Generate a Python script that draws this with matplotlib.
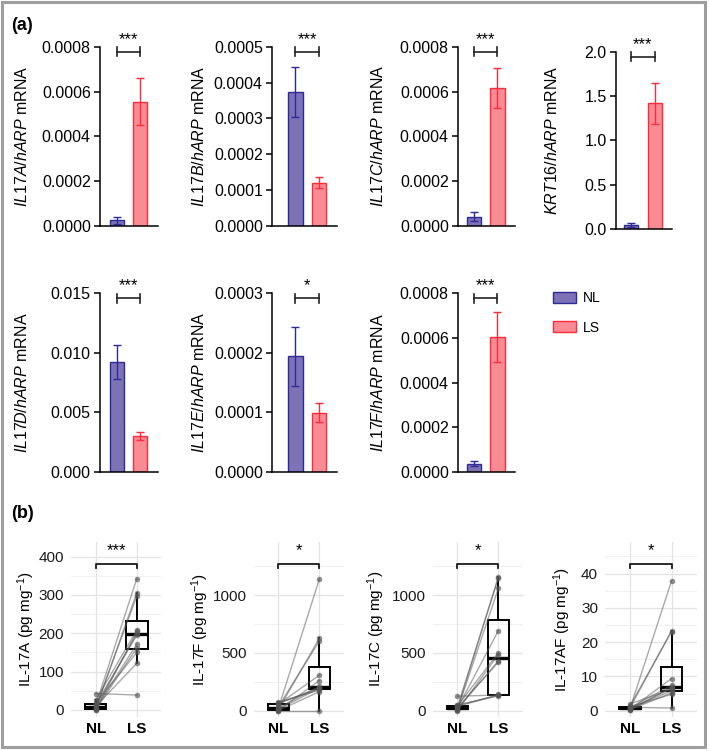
import matplotlib
matplotlib.use("Agg")
import matplotlib.pyplot as plt
import matplotlib.transforms as mtransforms
from matplotlib.patches import Patch, Rectangle
from matplotlib.ticker import MultipleLocator, FormatStrFormatter

plt.rcParams["font.family"] = ["Liberation Sans", "DejaVu Sans"]
plt.rcParams["mathtext.fontset"] = "custom"
plt.rcParams["mathtext.rm"] = "Liberation Sans"
plt.rcParams["mathtext.it"] = "Liberation Sans:italic"
plt.rcParams["mathtext.bf"] = "Liberation Sans:bold"

# ---- panel (a): qPCR, mean +/- SEM ----
genes = ["IL17A", "IL17B", "IL17C", "KRT16", "IL17D", "IL17E", "IL17F"]
nl_mean = [0.0000225, 0.000375, 0.000040, 0.049, 0.00924, 0.000194, 0.000037]
nl_sem = [0.000015, 0.000070, 0.000020, 0.018, 0.00140, 0.000050, 0.000012]
ls_mean = [0.000554, 0.000120, 0.000618, 1.418, 0.00300, 0.0000989, 0.000604]
ls_sem = [0.000105, 0.000016, 0.000090, 0.230, 0.00032, 0.000016, 0.000110]
y_max_a = [0.0008, 0.0005, 0.0008, 2.0, 0.015, 0.0003, 0.0008]
y_step_a = [0.0002, 0.0001, 0.0002, 0.5, 0.005, 0.0001, 0.0002]
y_fmt_a = ["%.4f", "%.4f", "%.4f", "%.1f", "%.3f", "%.4f", "%.4f"]
sig_a = ["***", "***", "***", "***", "***", "*", "***"]

# ---- panel (b): protein, paired NL/LS per patient ----
cytokines = ["IL-17A", "IL-17F", "IL-17C", "IL-17AF"]
il17a_nl = [43, 12, 3, 25, 0, 8, 15, 4, 1, 18, 9, 6]
il17a_ls = [39, 343, 306, 209, 205, 199, 195, 172, 162, 150, 122, 297]
il17f_nl = [18, 8, 0, 35, 55, 3, 25, 60, 12, 65, 75, 0]
il17f_ls = [1136, 625, 0, 600, 307, 260, 210, 200, 195, 188, 178, 165]
il17c_nl = [125, 10, 30, 5, 20, 40, 0, 15, 25, 35, 45, 50]
il17c_ls = [136, 1155, 1150, 1058, 692, 501, 485, 430, 420, 140, 132, 128]
il17af_nl = [1.0, 0.6, 0.8, 1.4, 0.4, 0.9, 0.1, 0.5, 2.0, 0.7, 0.3, 1.1]
il17af_ls = [0.8, 37.9, 23.3, 23.1, 9.4, 7.4, 7.0, 6.6, 6.3, 5.8, 5.2, 4.8]
sig_b = ["***", "*", "*", "*"]
groups = ["NL", "LS"]

NL_FILL, NL_EDGE = "#7e72b6", "#2d2a98"
LS_FILL, LS_EDGE = "#f98b95", "#ff2b3b"

W, H = 709, 751
fig = plt.figure(figsize=(W / 100, H / 100), dpi=100)


def rect(left, right, top, bottom):
    return [left / W, 1 - bottom / H, (right - left) / W, (bottom - top) / H]


# layout in pixels (spine x, end x, xlim) per column; (top, bottom) per row
cols_a = [(100, 158, (-0.74, 1.78)), (272, 337, (-1.0, 1.77)),
          (458, 515, (-0.68, 1.745)), (616, 672, (-0.625, 1.71))]
rows_a = [(47, 225.5), (293.3, 471.8)]
label_px_a = [30, 207, 386, 560]

for i, gene in enumerate(genes):
    r, c = divmod(i, 4)
    x0, x1, xl = cols_a[c]
    top, bot = rows_a[r]
    if i == 3:
        top, bot = 51.7, 229.3
    ax = fig.add_axes(rect(x0, x1, top, bot))
    ax.bar([0, 1], [nl_mean[i], ls_mean[i]], width=0.62,
           color=[NL_FILL, LS_FILL], edgecolor=[NL_EDGE, LS_EDGE], lw=1.0, zorder=2)
    ax.errorbar([0], [nl_mean[i]], yerr=[nl_sem[i]], fmt="none", ecolor=NL_EDGE,
                elinewidth=1.0, capsize=3.2, capthick=1.0, zorder=3)
    ax.errorbar([1], [ls_mean[i]], yerr=[ls_sem[i]], fmt="none", ecolor=LS_EDGE,
                elinewidth=1.0, capsize=3.2, capthick=1.0, zorder=3)
    ax.set_xlim(*xl)
    ax.set_ylim(0, y_max_a[i])
    ax.yaxis.set_major_locator(MultipleLocator(y_step_a[i]))
    ax.yaxis.set_major_formatter(FormatStrFormatter(y_fmt_a[i]))
    ax.set_xticks([])
    for s in ["top", "right"]:
        ax.spines[s].set_visible(False)
    for s in ["left", "bottom"]:
        ax.spines[s].set_linewidth(1.1)
    ax.tick_params(axis="y", length=4, width=1.1, pad=2.6, labelsize=11.5)
    ax.set_ylabel(r"$\mathit{%s/hARP}$ mRNA" % gene, fontsize=11.5)
    ax.yaxis.set_label_coords((label_px_a[c] - x0) / (x1 - x0), 0.5)

    tr = mtransforms.blended_transform_factory(ax.transData, ax.transAxes)
    yb = 1 - 5 / (bot - top)
    d = 4.5 / (bot - top)
    ax.plot([0, 1], [yb, yb], color="#222222", lw=1.2, transform=tr, clip_on=False)
    for xx in [0, 1]:
        ax.plot([xx, xx], [yb - d, yb + d], color="#222222", lw=1.2, transform=tr, clip_on=False)
    ax.text(0.5, 1.015, sig_a[i], transform=tr, ha="center", va="baseline", fontsize=12)

fig.legend(handles=[Patch(facecolor=NL_FILL, edgecolor=NL_EDGE, lw=1.0, label="NL"),
                    Patch(facecolor=LS_FILL, edgecolor=LS_EDGE, lw=1.0, label="LS")],
           loc="upper left", bbox_to_anchor=(553 / W, 1 - 291.5 / H), frameon=False,
           fontsize=10, borderpad=0, borderaxespad=0, handlelength=1.65,
           handleheight=0.8, handletextpad=0.5, labelspacing=1.08)

# ---- panel (b) ----
nl_b = [il17a_nl, il17f_nl, il17c_nl, il17af_nl]
ls_b = [il17a_ls, il17f_ls, il17c_ls, il17af_ls]
boxes_b = [(71, 161.5), (253.7, 343.9), (432.7, 523), (605, 696.5)]
ylim_b = [(-17.5, 439), (-52, 1461), (-52, 1461), (-1.74, 49.3)]
step_b = [100, 500, 500, 10]
label_px_b = [37, 211, 387, 573]
top_b, bot_b = 541.7, 716.7

for i, name in enumerate(cytokines):
    x0, x1 = boxes_b[i]
    ax = fig.add_axes(rect(x0, x1, top_b, bot_b))
    nl, ls = nl_b[i], ls_b[i]
    ax.boxplot([nl, ls], positions=[1, 2], widths=0.52, showfliers=False,
               patch_artist=True,
               boxprops=dict(facecolor="none", edgecolor="black", lw=1.4),
               medianprops=dict(color="black", lw=2.4),
               whiskerprops=dict(color="black", lw=1.4),
               capprops=dict(visible=False), zorder=2)
    for a, b in zip(nl, ls):
        ax.plot([1, 2], [a, b], color="#555555", alpha=0.5, lw=1.0, zorder=3)
    ax.plot([1] * len(nl), nl, "o", color="#555555", alpha=0.65, ms=4, mew=0, zorder=4)
    ax.plot([2] * len(ls), ls, "o", color="#555555", alpha=0.65, ms=4, mew=0, zorder=4)

    ax.set_xlim(0.4, 2.6)
    ax.set_ylim(*ylim_b[i])
    ax.set_xticks([1, 2], groups, fontweight="bold", fontsize=11)
    ax.yaxis.set_major_locator(MultipleLocator(step_b[i]))
    ax.yaxis.set_minor_locator(MultipleLocator(step_b[i] / 2))
    ax.grid(which="major", color="#e3e3e3", lw=0.9)
    ax.grid(which="minor", axis="y", color="#ededed", lw=0.6)
    ax.set_axisbelow(True)
    for s in ax.spines.values():
        s.set_visible(False)
    ax.tick_params(which="both", length=0)
    ax.tick_params(axis="y", labelsize=11, pad=5, labelcolor="#1a1a1a")
    ax.tick_params(axis="x", pad=4)

    ax.set_ylabel(name + r" (pg mg$^{-1}$)", fontsize=11)
    ax.yaxis.set_label_coords((label_px_b[i] - x0) / (x1 - x0), 0.5)

    tr = mtransforms.blended_transform_factory(ax.transData, ax.transAxes)
    yb = 0.875
    d = 4 / (bot_b - top_b)
    ax.plot([1, 1, 2, 2], [yb - d, yb, yb, yb - d], color="#1a1a1a", lw=1.3,
            transform=tr, clip_on=False, zorder=5)
    ax.text(1.5, 0.924, sig_b[i], transform=tr, ha="center", va="baseline", fontsize=12)

fig.text(22.5 / W, 1 - 25 / H, "(a)", fontsize=13, fontweight="bold", ha="center", va="center")
fig.text(22.5 / W, 1 - 513 / H, "(b)", fontsize=13, fontweight="bold", ha="center", va="center")

fig.add_artist(Rectangle((1.5 / W, 1 - 746.5 / H), 703 / W, 745 / H,
                         transform=fig.transFigure, fill=False, ec="#9e9e9e", lw=2.2))

fig.savefig("out.png", dpi=100)
